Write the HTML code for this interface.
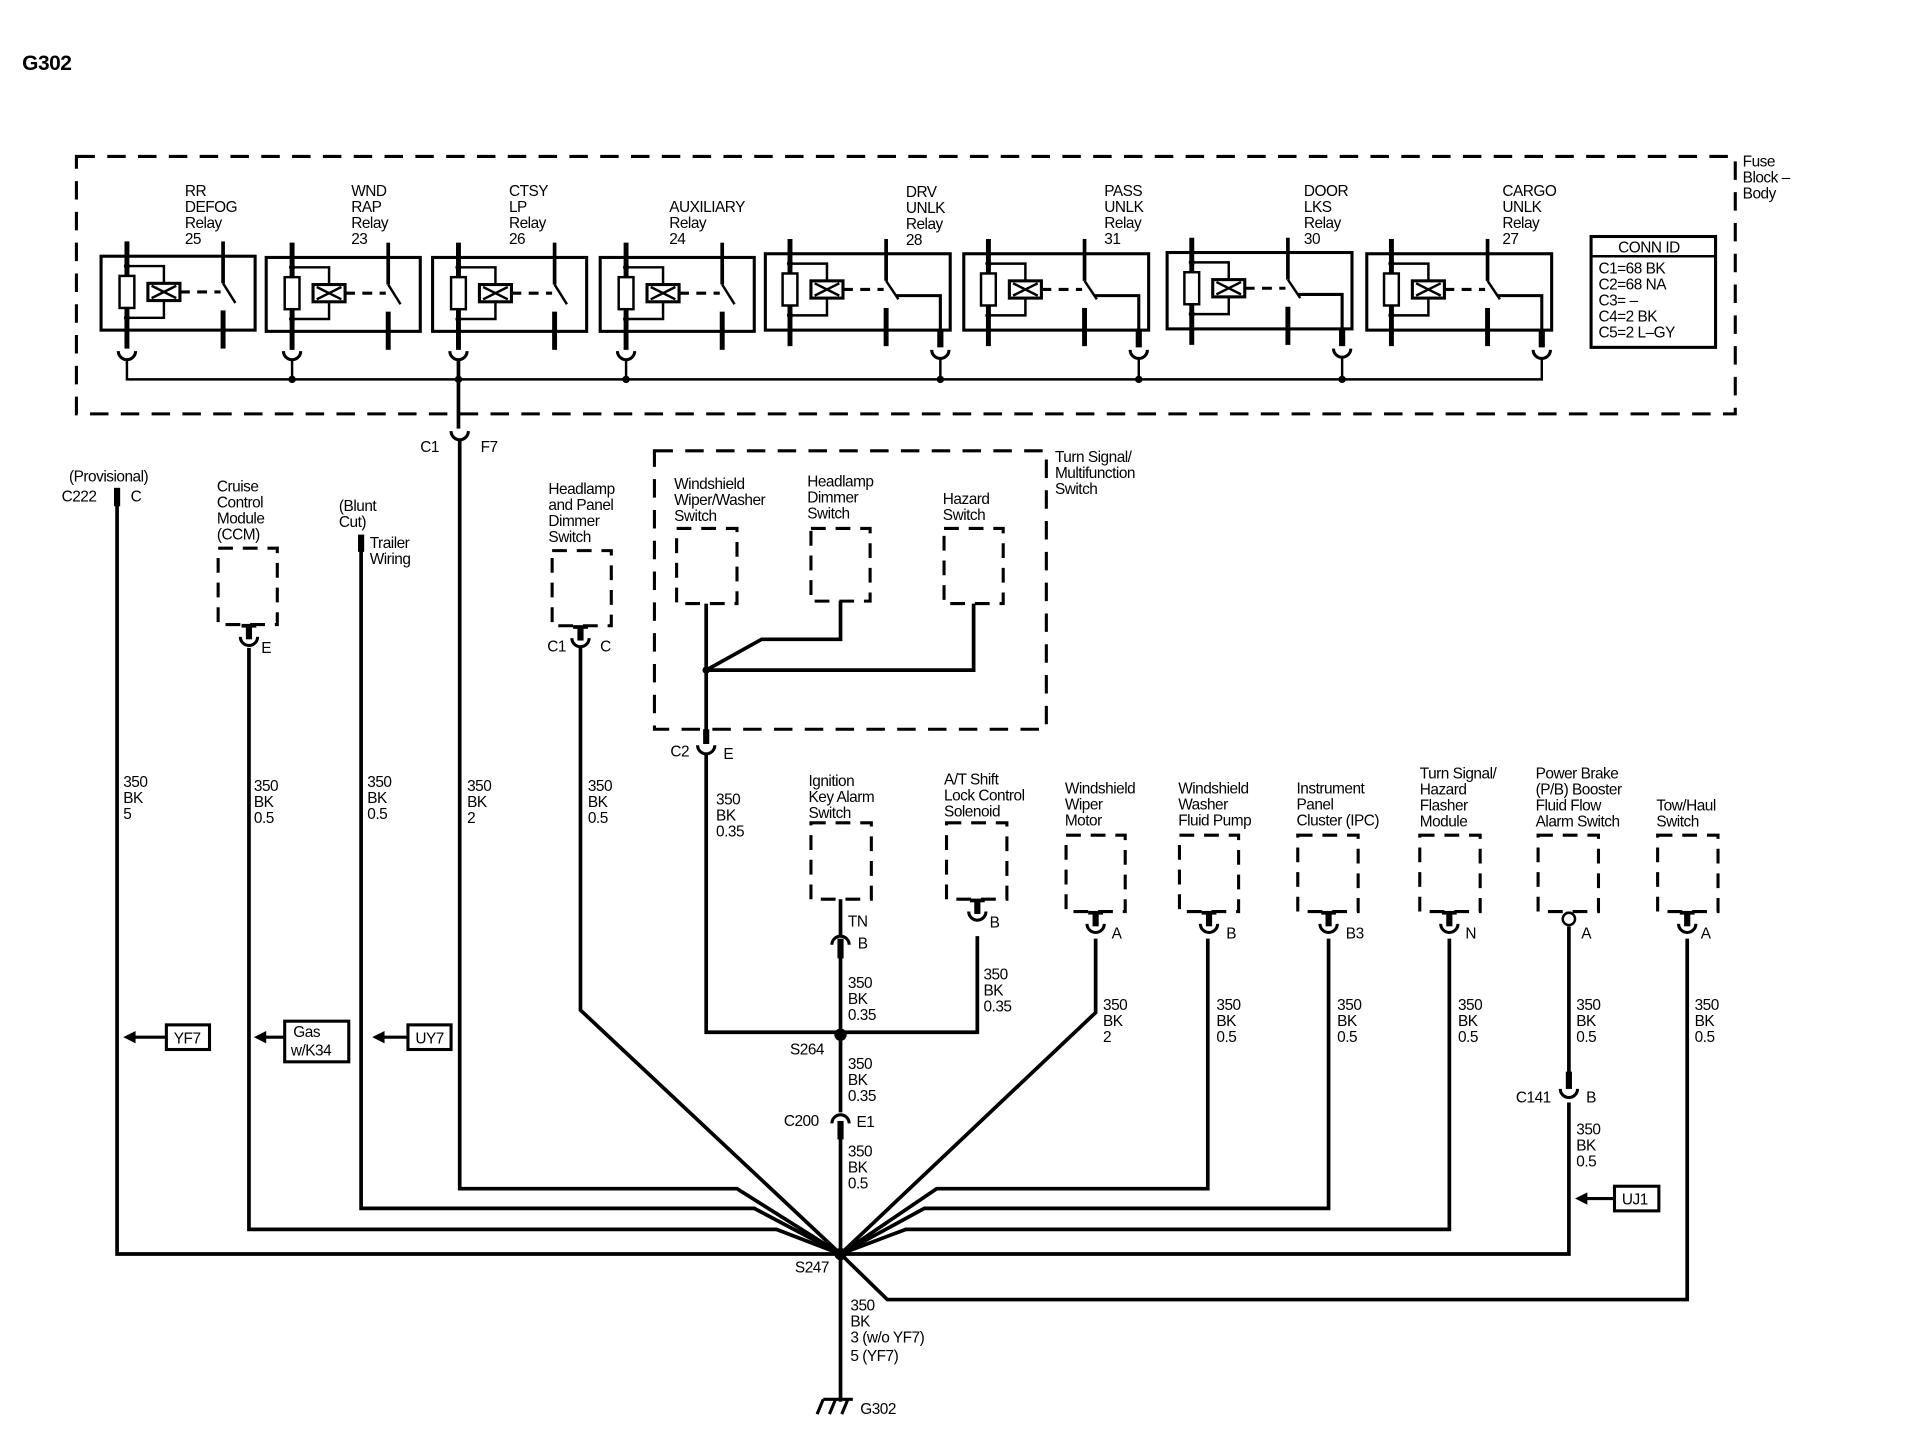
<!DOCTYPE html>
<html><head><meta charset="utf-8"><style>
html,body{margin:0;padding:0;background:#fff;}
svg{display:block;}
text{font-family:"Liberation Sans",Arial,sans-serif;font-size:12.5px;fill:#000;letter-spacing:-0.4px;}
</style></head><body>
<svg width="1930" height="1456" viewBox="0 0 1566 1182" preserveAspectRatio="none" xmlns="http://www.w3.org/2000/svg">
<defs>
<g id="rn">
 <rect x="0" y="0" width="125" height="60" fill="none" stroke="#000" stroke-width="2.5"/>
 <line x1="21" y1="-12" x2="21" y2="75" stroke="#000" stroke-width="4"/>
 <rect x="15" y="16" width="12" height="26" fill="#fff" stroke="#000" stroke-width="2"/>
 <circle cx="21" cy="8" r="2.5"/><circle cx="21" cy="50" r="2.5"/>
 <polyline points="21,8 51,8 51,22" fill="none" stroke="#000" stroke-width="2"/>
 <polyline points="21,50 51,50 51,36" fill="none" stroke="#000" stroke-width="2"/>
 <rect x="38" y="22" width="26" height="14" fill="#fff" stroke="#000" stroke-width="2.5"/>
 <path d="M41 24 L61 34 M41 34 L61 24" stroke="#000" stroke-width="2"/>
 <line x1="64" y1="29" x2="97" y2="29" stroke="#000" stroke-width="2.5" stroke-dasharray="8,6"/>
 <line x1="99" y1="-12" x2="99" y2="22" stroke="#000" stroke-width="3"/>
 <line x1="99" y1="22" x2="109" y2="38" stroke="#000" stroke-width="2"/>
 <line x1="99" y1="44" x2="99" y2="75" stroke="#000" stroke-width="4"/>
</g>
<g id="rw">
 <rect x="0" y="0" width="150" height="62" fill="none" stroke="#000" stroke-width="2.5"/>
 <line x1="20" y1="-12" x2="20" y2="75" stroke="#000" stroke-width="4"/>
 <rect x="14" y="16" width="12" height="26" fill="#fff" stroke="#000" stroke-width="2"/>
 <circle cx="20" cy="8" r="2.5"/><circle cx="20" cy="50" r="2.5"/>
 <polyline points="20,8 50,8 50,22" fill="none" stroke="#000" stroke-width="2"/>
 <polyline points="20,50 50,50 50,36" fill="none" stroke="#000" stroke-width="2"/>
 <rect x="37" y="22" width="26" height="14" fill="#fff" stroke="#000" stroke-width="2.5"/>
 <path d="M40 24 L60 34 M40 34 L60 24" stroke="#000" stroke-width="2"/>
 <line x1="63" y1="29" x2="96" y2="29" stroke="#000" stroke-width="2.5" stroke-dasharray="8,6"/>
 <line x1="98" y1="-12" x2="98" y2="22" stroke="#000" stroke-width="3"/>
 <line x1="98" y1="22" x2="108" y2="37" stroke="#000" stroke-width="2"/>
 <polyline points="106,34 142,34 142,75" fill="none" stroke="#000" stroke-width="2.5"/>
 <line x1="98" y1="44" x2="98" y2="75" stroke="#000" stroke-width="4"/>
 <line x1="142" y1="62" x2="142" y2="76" stroke="#000" stroke-width="5"/>
</g>
<path id="cup" d="M-7 0 A7 7 0 0 0 7 0" fill="none" stroke="#000" stroke-width="2.5"/>
<path id="cap" d="M-7 0 A7 7 0 0 1 7 0" fill="none" stroke="#000" stroke-width="2.5"/>
<g id="tc">
 <line x1="-6" y1="1" x2="6" y2="1" stroke="#000" stroke-width="3"/>
 <line x1="0" y1="0" x2="0" y2="12" stroke="#000" stroke-width="5"/>
 <path d="M-7 10 A7 7 0 0 0 7 10" fill="none" stroke="#000" stroke-width="2.5"/>
</g>
</defs>

<text x="18" y="57" style="font-size:17px;font-weight:bold">G302</text>

<!-- fuse block -->
<rect x="62" y="127" width="1346" height="209" fill="none" stroke="#000" stroke-width="2.5" stroke-dasharray="15,10"/>
<text x="1414" y="135">Fuse</text><text x="1414" y="148">Block –</text><text x="1414" y="161">Body</text>

<use href="#rn" x="82" y="208"/>
<use href="#rn" x="216" y="209"/>
<use href="#rn" x="351" y="209"/>
<use href="#rn" x="487" y="209"/>
<use href="#rw" x="621" y="206"/>
<use href="#rw" x="782" y="206"/>
<use href="#rw" x="947" y="205"/>
<use href="#rw" x="1109" y="206"/>

<g transform="translate(0,0)">
<use href="#cup" x="103" y="285"/><use href="#cup" x="237" y="285"/><use href="#cup" x="372" y="285"/><use href="#cup" x="508" y="285"/>
<use href="#cup" x="763" y="284"/><use href="#cup" x="924" y="284"/><use href="#cup" x="1089" y="283"/><use href="#cup" x="1251" y="284"/>
</g>
<g stroke="#000" stroke-width="2" fill="none">
<polyline points="103,292 103,308 1251,308 1251,291"/>
<line x1="237" y1="292" x2="237" y2="308"/><line x1="508" y1="292" x2="508" y2="308"/>
<line x1="763" y1="291" x2="763" y2="308"/><line x1="924" y1="291" x2="924" y2="308"/><line x1="1089" y1="290" x2="1089" y2="308"/>
</g>
<line x1="372" y1="292" x2="372" y2="348" stroke="#000" stroke-width="3"/>
<g fill="#000"><circle cx="237" cy="308" r="3"/><circle cx="372" cy="308" r="3"/><circle cx="508" cy="308" r="3"/><circle cx="763" cy="308" r="3"/><circle cx="924" cy="308" r="3"/><circle cx="1089" cy="308" r="3"/></g>

<text x="150" y="159">RR</text><text x="150" y="172">DEFOG</text><text x="150" y="185">Relay</text><text x="150" y="198">25</text>
<text x="285" y="159">WND</text><text x="285" y="172">RAP</text><text x="285" y="185">Relay</text><text x="285" y="198">23</text>
<text x="413" y="159">CTSY</text><text x="413" y="172">LP</text><text x="413" y="185">Relay</text><text x="413" y="198">26</text>
<text x="543" y="172">AUXILIARY</text><text x="543" y="185">Relay</text><text x="543" y="198">24</text>
<text x="735" y="160">DRV</text><text x="735" y="173">UNLK</text><text x="735" y="186">Relay</text><text x="735" y="199">28</text>
<text x="896" y="159">PASS</text><text x="896" y="172">UNLK</text><text x="896" y="185">Relay</text><text x="896" y="198">31</text>
<text x="1058" y="159">DOOR</text><text x="1058" y="172">LKS</text><text x="1058" y="185">Relay</text><text x="1058" y="198">30</text>
<text x="1219" y="159">CARGO</text><text x="1219" y="172">UNLK</text><text x="1219" y="185">Relay</text><text x="1219" y="198">27</text>

<rect x="1291" y="192" width="101" height="90" fill="none" stroke="#000" stroke-width="2.5"/>
<line x1="1291" y1="208" x2="1392" y2="208" stroke="#000" stroke-width="2"/>
<text x="1313" y="205">CONN ID</text>
<text x="1297" y="222">C1=68 BK</text><text x="1297" y="235">C2=68 NA</text><text x="1297" y="248">C3= –</text><text x="1297" y="261">C4=2 BK</text><text x="1297" y="274">C5=2 L–GY</text>

<!-- C1 F7 -->
<use href="#cup" x="373" y="350"/>
<text x="341" y="367">C1</text><text x="390" y="367">F7</text>

<g stroke="#000" stroke-width="3" fill="none">
<!-- F7 wire -->
<polyline points="373,357 373,965 598,965 682,1018"/>
<!-- C222 -->
<polyline points="95,410 95,1018 1273,1018 1273,895"/>
<!-- CCM -->
<polyline points="202,526 202,998 630,998 682,1018"/>
<!-- trailer -->
<polyline points="293,447 293,981 612,981 682,1018"/>
<!-- headlamp dimmer -->
<polyline points="471,526 471,820 682,1018"/>
<!-- washer pump -->
<polyline points="980,762 980,965 760,965 682,1018"/>
<!-- IPC -->
<polyline points="1078,762 1078,981 750,981 682,1018"/>
<!-- turn sig/hazard -->
<polyline points="1176,762 1176,998 735,998 682,1018"/>
<!-- wiper -->
<polyline points="889,762 889,822 682,1018"/>
<!-- tow haul -->
<polyline points="1369,762 1369,1055 720,1055 682,1018"/>
<!-- power brake upper -->
<line x1="1273" y1="752" x2="1273" y2="880"/>
<!-- center -->
<line x1="682" y1="730" x2="682" y2="760"/>
<line x1="682" y1="772" x2="682" y2="903"/>
<line x1="682" y1="915" x2="682" y2="1138"/>
<!-- turn signal internal wires -->
<polyline points="573,490 573,599"/>
<polyline points="682,488 682,519 618,519 573,544"/>
<polyline points="790,490 790,544 573,544"/>
<polyline points="573,612 573,838 793,838 793,760"/>
</g>
<circle cx="573" cy="544" r="3"/>
<circle cx="682" cy="840" r="5"/>
<circle cx="682" cy="1018" r="5"/>

<!-- C222 -->
<line x1="95" y1="396" x2="95" y2="411" stroke="#000" stroke-width="5"/>
<text x="56" y="391">(Provisional)</text><text x="50" y="407">C222</text><text x="106" y="407">C</text>

<!-- CCM -->
<rect x="177" y="445" width="48" height="62" fill="none" stroke="#000" stroke-width="2.5" stroke-dasharray="12,8"/>
<use href="#tc" x="202" y="507"/>
<text x="212" y="530">E</text>
<text x="176" y="399">Cruise</text><text x="176" y="412">Control</text><text x="176" y="425">Module</text><text x="176" y="438">(CCM)</text>

<!-- trailer -->
<line x1="293" y1="434" x2="293" y2="448" stroke="#000" stroke-width="5"/>
<text x="275" y="415">(Blunt</text><text x="275" y="428">Cut)</text><text x="300" y="445">Trailer</text><text x="300" y="458">Wiring</text>

<!-- headlamp panel dimmer -->
<rect x="448" y="447" width="48" height="61" fill="none" stroke="#000" stroke-width="2.5" stroke-dasharray="12,8"/>
<use href="#tc" x="471" y="508"/>
<text x="444" y="529">C1</text><text x="487" y="529">C</text>
<text x="445" y="401">Headlamp</text><text x="445" y="414">and Panel</text><text x="445" y="427">Dimmer</text><text x="445" y="440">Switch</text>

<!-- turn signal / multifunction -->
<rect x="531" y="366" width="318" height="226" fill="none" stroke="#000" stroke-width="2.5" stroke-dasharray="15,10"/>
<text x="856" y="375">Turn Signal/</text><text x="856" y="388">Multifunction</text><text x="856" y="401">Switch</text>
<rect x="549" y="429" width="49" height="61" fill="none" stroke="#000" stroke-width="2.5" stroke-dasharray="12,8"/>
<rect x="658" y="429" width="48" height="59" fill="none" stroke="#000" stroke-width="2.5" stroke-dasharray="12,8"/>
<rect x="766" y="429" width="48" height="61" fill="none" stroke="#000" stroke-width="2.5" stroke-dasharray="12,8"/>
<text x="547" y="397">Windshield</text><text x="547" y="410">Wiper/Washer</text><text x="547" y="423">Switch</text>
<text x="655" y="395">Headlamp</text><text x="655" y="408">Dimmer</text><text x="655" y="421">Switch</text>
<text x="765" y="409">Hazard</text><text x="765" y="422">Switch</text>
<line x1="573" y1="592" x2="573" y2="604" stroke="#000" stroke-width="5"/>
<use href="#cup" x="573" y="605"/>
<text x="544" y="614">C2</text><text x="587" y="616">E</text>

<text x="581" y="653">350</text><text x="581" y="666">BK</text><text x="581" y="679">0.35</text>

<!-- ignition -->
<rect x="658" y="668" width="49" height="62" fill="none" stroke="#000" stroke-width="2.5" stroke-dasharray="12,8"/>
<text x="656" y="638">Ignition</text><text x="656" y="651">Key Alarm</text><text x="656" y="664">Switch</text>
<text x="688" y="752">TN</text>
<use href="#cap" x="682" y="767"/>
<line x1="682" y1="762" x2="682" y2="778" stroke="#000" stroke-width="5"/>
<text x="696" y="770">B</text>
<text x="688" y="802">350</text><text x="688" y="815">BK</text><text x="688" y="828">0.35</text>

<!-- A/T shift -->
<rect x="768" y="668" width="49" height="62" fill="none" stroke="#000" stroke-width="2.5" stroke-dasharray="12,8"/>
<text x="766" y="637">A/T Shift</text><text x="766" y="650">Lock Control</text><text x="766" y="663">Solenoid</text>
<use href="#tc" x="793" y="730"/>
<text x="803" y="753">B</text>
<text x="798" y="795">350</text><text x="798" y="808">BK</text><text x="798" y="821">0.35</text>

<text x="641" y="856">S264</text>
<text x="688" y="868">350</text><text x="688" y="881">BK</text><text x="688" y="894">0.35</text>
<use href="#cap" x="682" y="912"/>
<line x1="682" y1="910" x2="682" y2="925" stroke="#000" stroke-width="5"/>
<text x="636" y="914">C200</text><text x="695" y="915">E1</text>
<text x="688" y="939">350</text><text x="688" y="952">BK</text><text x="688" y="965">0.5</text>
<text x="645" y="1033">S247</text>
<text x="690" y="1064">350</text><text x="690" y="1077">BK</text><text x="690" y="1090">3 (w/o YF7)</text><text x="690" y="1105">5 (YF7)</text>
<path d="M663 1148 L668 1136 M673 1148 L678 1136 M683 1148 L688 1136 M668 1136 L692 1136" stroke="#000" stroke-width="2.5" fill="none"/>
<text x="698" y="1148">G302</text>

<!-- right components -->
<g fill="none" stroke="#000" stroke-width="2.5" stroke-dasharray="12,8">
<rect x="865" y="678" width="48" height="62"/>
<rect x="957" y="678" width="48" height="62"/>
<rect x="1053" y="678" width="49" height="62"/>
<rect x="1152" y="678" width="49" height="62"/>
<rect x="1248" y="678" width="49" height="62"/>
<rect x="1345" y="678" width="49" height="62"/>
</g>
<use href="#tc" x="889" y="740"/><use href="#tc" x="981" y="740"/><use href="#tc" x="1078" y="740"/><use href="#tc" x="1176" y="740"/><use href="#tc" x="1369" y="740"/>
<line x1="1273" y1="740" x2="1273" y2="744" stroke="#000" stroke-width="4"/>
<circle cx="1273" cy="746" r="5" fill="#fff" stroke="#000" stroke-width="2"/>
<text x="902" y="762">A</text><text x="995" y="762">B</text><text x="1092" y="762">B3</text><text x="1189" y="762">N</text><text x="1283" y="762">A</text><text x="1380" y="762">A</text>

<text x="864" y="644">Windshield</text><text x="864" y="657">Wiper</text><text x="864" y="670">Motor</text>
<text x="956" y="644">Windshield</text><text x="956" y="657">Washer</text><text x="956" y="670">Fluid Pump</text>
<text x="1052" y="644">Instrument</text><text x="1052" y="657">Panel</text><text x="1052" y="670">Cluster (IPC)</text>
<text x="1152" y="632">Turn Signal/</text><text x="1152" y="645">Hazard</text><text x="1152" y="658">Flasher</text><text x="1152" y="671">Module</text>
<text x="1246" y="632">Power Brake</text><text x="1246" y="645">(P/B) Booster</text><text x="1246" y="658">Fluid Flow</text><text x="1246" y="671">Alarm Switch</text>
<text x="1344" y="658">Tow/Haul</text><text x="1344" y="671">Switch</text>

<text x="895" y="820">350</text><text x="895" y="833">BK</text><text x="895" y="846">2</text>
<text x="987" y="820">350</text><text x="987" y="833">BK</text><text x="987" y="846">0.5</text>
<text x="1085" y="820">350</text><text x="1085" y="833">BK</text><text x="1085" y="846">0.5</text>
<text x="1183" y="820">350</text><text x="1183" y="833">BK</text><text x="1183" y="846">0.5</text>
<text x="1279" y="820">350</text><text x="1279" y="833">BK</text><text x="1279" y="846">0.5</text>
<text x="1375" y="820">350</text><text x="1375" y="833">BK</text><text x="1375" y="846">0.5</text>

<line x1="1273" y1="870" x2="1273" y2="884" stroke="#000" stroke-width="5"/>
<use href="#cup" x="1273" y="884"/>
<text x="1230" y="895">C141</text><text x="1287" y="895">B</text>
<text x="1279" y="921">350</text><text x="1279" y="934">BK</text><text x="1279" y="947">0.5</text>

<!-- left labels -->
<text x="100" y="639">350</text><text x="100" y="652">BK</text><text x="100" y="665">5</text>
<text x="206" y="642">350</text><text x="206" y="655">BK</text><text x="206" y="668">0.5</text>
<text x="298" y="639">350</text><text x="298" y="652">BK</text><text x="298" y="665">0.5</text>
<text x="379" y="642">350</text><text x="379" y="655">BK</text><text x="379" y="668">2</text>
<text x="477" y="642">350</text><text x="477" y="655">BK</text><text x="477" y="668">0.5</text>

<!-- arrows -->
<g stroke="#000" stroke-width="2.5" fill="none">
<rect x="135" y="832" width="35" height="20"/>
<rect x="231" y="829" width="52" height="33"/>
<rect x="331" y="832" width="35" height="20"/>
<rect x="1310" y="963" width="36" height="20"/>
<line x1="108" y1="842" x2="135" y2="842"/>
<line x1="214" y1="842" x2="231" y2="842"/>
<line x1="310" y1="842" x2="331" y2="842"/>
<line x1="1286" y1="973" x2="1310" y2="973"/>
</g>
<g fill="#000">
<path d="M100 842 L110 837 L110 847 Z"/><path d="M206 842 L216 837 L216 847 Z"/><path d="M302 842 L312 837 L312 847 Z"/><path d="M1278 973 L1288 968 L1288 978 Z"/>
</g>
<text x="141" y="847">YF7</text><text x="238" y="842">Gas</text><text x="236" y="857">w/K34</text><text x="337" y="847">UY7</text><text x="1316" y="978">UJ1</text>
</svg>
</body></html>
